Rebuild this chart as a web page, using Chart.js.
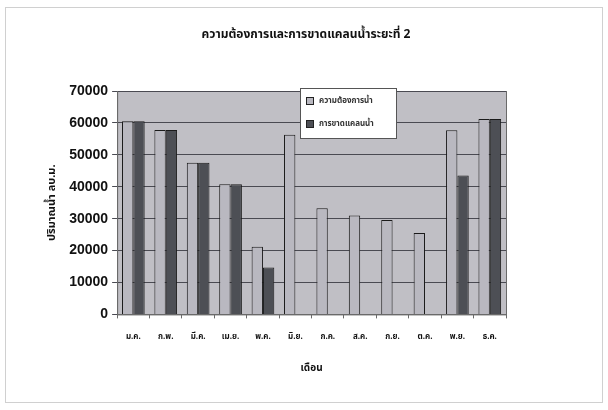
<!DOCTYPE html>
<html>
<head>
<meta charset="utf-8">
<script src="https://cdn.jsdelivr.net/npm/chart.js@4.4.1/dist/chart.umd.min.js"></script>
<style>
  html, body { margin: 0; padding: 0; background: #fff; }
  #wrap { position: absolute; left: 5px; top: 7px; width: 598px; height: 396px; border: 1px solid #d0d0d0; box-sizing: border-box; }
  canvas { display: block; }
</style>
</head>
<body>
<div id="wrap"><canvas id="chart" width="596" height="394"></canvas></div>
<script>
// ข้อมูล
const months = ["ม.ค.", "ก.พ.", "มี.ค.", "เม.ย.", "พ.ค.", "มิ.ย.", "ก.ค.", "ส.ค.", "ก.ย.", "ต.ค.", "พ.ย.", "ธ.ค."];
const demand = [60500, 57800, 47500, 40800, 21200, 56300, 33300, 31000, 29600, 25500, 57700, 61200];
const shortage = [60500, 57800, 47500, 40800, 14700, 0, 0, 0, 0, 0, 43500, 61200];
const yTicks = [0, 10000, 20000, 30000, 40000, 50000, 60000, 70000];
const chartTitle = "ความต้องการและการขาดแคลนน้ำระยะที่ 2";

const thaiFont = "'Noto Sans Thai', 'Noto Sans', 'DejaVu Sans', sans-serif";

// พื้นหลังของพื้นที่กราฟ + ชื่อกราฟ
const plotBg = {
  id: "plotBg",
  beforeDraw(chart) {
    const { ctx, chartArea: a } = chart;
    ctx.save();
    ctx.fillStyle = "#c0bfc5";
    ctx.fillRect(a.left, a.top, a.right - a.left, a.bottom - a.top);
    ctx.strokeStyle = "#6a6a6a";
    ctx.lineWidth = 1;
    ctx.strokeRect(a.left + 0.5, a.top + 0.5, a.right - a.left, a.bottom - a.top);
    ctx.fillStyle = "#111";
    ctx.font = "bold 12px " + thaiFont;
    ctx.textAlign = "center";
    ctx.textBaseline = "middle";
    ctx.fillText(chartTitle, chart.width / 2 + 2, 28);
    ctx.restore();
  }
};

// กล่องคำอธิบาย
const boxLegend = {
  id: "boxLegend",
  afterDraw(chart) {
    const { ctx } = chart;
    const x = 294, y = 80, w = 96, h = 50;
    ctx.save();
    ctx.fillStyle = "#ffffff";
    ctx.fillRect(x, y, w, h);
    ctx.strokeStyle = "#555";
    ctx.lineWidth = 1;
    ctx.strokeRect(x + 0.5, y + 0.5, w, h);
    ctx.font = "bold 8px " + thaiFont;
    ctx.textBaseline = "middle";
    chart.data.datasets.forEach((ds, i) => {
      const cy = y + 13 + i * 23;
      ctx.fillStyle = ds.backgroundColor;
      ctx.fillRect(x + 6, cy - 4, 8, 8);
      ctx.strokeStyle = "#222";
      ctx.strokeRect(x + 6.5, cy - 3.5, 7, 7);
      ctx.fillStyle = "#333";
      ctx.fillText(ds.label, x + 19, cy);
    });
    ctx.restore();
  }
};

new Chart(document.getElementById("chart"), {
  type: "bar",
  data: {
    labels: months,
    datasets: [
      {
        label: "ความต้องการน้ำ",
        data: demand,
        backgroundColor: "#b9b8c0",
        borderColor: "#1a1a1a",
        borderWidth: 1,
        categoryPercentage: 0.7,
        barPercentage: 1.0
      },
      {
        label: "การขาดแคลนน้ำ",
        data: shortage,
        backgroundColor: "#4d4f55",
        borderColor: "#1a1a1a",
        borderWidth: 1,
        categoryPercentage: 0.7,
        barPercentage: 1.0
      }
    ]
  },
  options: {
    responsive: false,
    animation: false,
    layout: { padding: { left: 40, right: 96, top: 83, bottom: 0 } },
    plugins: {
      legend: { display: false },
      tooltip: { enabled: false },
      title: { display: false }
    },
    scales: {
      x: {
        grid: { display: true, drawOnChartArea: false, tickLength: 4, color: "#6a6a6a" },
        border: { color: "#6a6a6a" },
        ticks: { color: "#111", font: { family: thaiFont, size: 8, weight: "bold" }, padding: 14 },
        title: {
          display: true,
          text: "เดือน",
          color: "#111",
          font: { family: thaiFont, size: 10, weight: "bold" },
          padding: { top: 7, bottom: 27 }
        }
      },
      y: {
        min: 0,
        max: 70000,
        afterBuildTicks(axis) { axis.ticks = yTicks.map(v => ({ value: v })); },
        grid: { color: "#4a4a52", lineWidth: 1, drawTicks: true, tickLength: 5 },
        border: { color: "#6a6a6a" },
        ticks: {
          color: "#111",
          font: { family: "'Liberation Sans', Arial, sans-serif", size: 14, weight: "bold" },
          padding: 4,
          callback: v => String(v)
        },
        title: {
          display: true,
          text: "ปริมาณน้ำ ลบ.ม.",
          color: "#111",
          font: { family: thaiFont, size: 11, weight: "bold" },
          padding: { top: 0, bottom: 6 }
        }
      }
    }
  },
  plugins: [plotBg, boxLegend]
});
</script>
</body>
</html>
